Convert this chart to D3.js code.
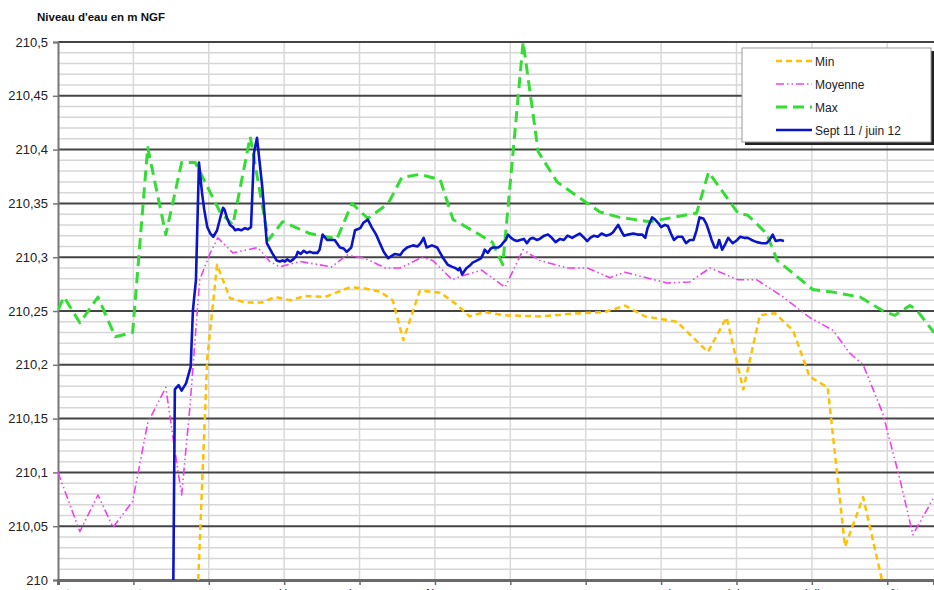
<!DOCTYPE html>
<html>
<head>
<meta charset="utf-8">
<script src="https://cdn.jsdelivr.net/npm/d3@7"></script>
<style>
  html, body { margin: 0; padding: 0; background: #fff; }
  svg { display: block; font-family: Arial, "Liberation Sans", sans-serif; }
</style>
</head>
<body>
<svg id="chart" width="934" height="590"></svg>
<script>
// Month labels of the hydrological year (x = month index, 0 = September)
const monthLabels = ["sept", "oct", "nov", "déc", "janv", "févr", "mars", "avr", "mai", "juin", "juil", "août"];
const yTicks = [210, 210.05, 210.1, 210.15, 210.2, 210.25, 210.3, 210.35, 210.4, 210.45, 210.5];

// Minimum of the record (month index, level m NGF)
const minX = [1.86, 1.98, 2.11, 2.28, 2.48, 2.71, 2.88, 3.08, 3.28, 3.54, 3.87, 4.07, 4.27, 4.44, 4.58, 4.80, 5.07, 5.27, 5.46, 5.66, 5.93, 6.39, 6.92, 7.25, 7.52, 7.79, 8.21, 8.62, 8.87, 9.09, 9.31, 9.51, 9.75, 9.97, 10.21, 10.44, 10.68, 10.93];
const minY = [210.000, 210.206, 210.293, 210.262, 210.258, 210.258, 210.263, 210.260, 210.264, 210.263, 210.272, 210.271, 210.268, 210.260, 210.223, 210.269, 210.267, 210.257, 210.245, 210.249, 210.246, 210.245, 210.248, 210.249, 210.255, 210.245, 210.240, 210.212, 210.244, 210.177, 210.246, 210.248, 210.232, 210.189, 210.179, 210.031, 210.077, 210.000];

// Mean of the record
const meanX = [0, 0.29, 0.53, 0.73, 0.99, 1.19, 1.43, 1.53, 1.64, 1.75, 1.88, 2.02, 2.12, 2.32, 2.65, 2.81, 2.94, 3.21, 3.63, 3.83, 4.07, 4.34, 4.54, 4.83, 4.97, 5.23, 5.33, 5.62, 5.93, 6.17, 6.39, 6.75, 7.02, 7.32, 7.52, 8.08, 8.38, 8.65, 9.02, 9.27, 9.62, 9.97, 10.28, 10.50, 10.68, 10.94, 11.17, 11.34, 11.62];
const meanY = [210.100, 210.045, 210.079, 210.049, 210.073, 210.146, 210.179, 210.130, 210.079, 210.161, 210.279, 210.304, 210.318, 210.304, 210.309, 210.296, 210.291, 210.296, 210.291, 210.302, 210.299, 210.290, 210.290, 210.300, 210.297, 210.279, 210.282, 210.288, 210.272, 210.307, 210.297, 210.290, 210.290, 210.281, 210.286, 210.276, 210.277, 210.290, 210.279, 210.279, 210.263, 210.244, 210.232, 210.211, 210.200, 210.155, 210.093, 210.042, 210.077];

// Maximum of the record
const maxX = [0, 0.08, 0.29, 0.53, 0.76, 0.99, 1.19, 1.43, 1.64, 1.82, 2.15, 2.32, 2.55, 2.79, 2.98, 3.34, 3.70, 3.90, 4.11, 4.38, 4.56, 4.80, 5.07, 5.24, 5.37, 5.76, 5.90, 6.17, 6.37, 6.62, 6.86, 7.19, 7.45, 7.85, 8.47, 8.63, 9.02, 9.15, 9.40, 9.54, 9.75, 10.01, 10.24, 10.64, 10.97, 11.10, 11.30, 11.39, 11.62];
const maxY = [210.251, 210.263, 210.239, 210.263, 210.226, 210.230, 210.402, 210.321, 210.388, 210.388, 210.342, 210.330, 210.412, 210.316, 210.333, 210.322, 210.317, 210.350, 210.336, 210.350, 210.374, 210.377, 210.372, 210.335, 210.330, 210.314, 210.293, 210.500, 210.398, 210.370, 210.358, 210.342, 210.337, 210.333, 210.341, 210.379, 210.341, 210.339, 210.322, 210.297, 210.285, 210.270, 210.268, 210.263, 210.249, 210.246, 210.255, 210.251, 210.230];

// Sept 2011 - June 2012 daily readings
const obsX = [1.53, 1.55, 1.56, 1.60, 1.64, 1.70, 1.72, 1.76, 1.79, 1.83, 1.87, 1.91, 1.94, 1.98, 2.02, 2.06, 2.11, 2.15, 2.19, 2.21, 2.24, 2.28, 2.32, 2.35, 2.39, 2.43, 2.48, 2.52, 2.56, 2.60, 2.64, 2.71, 2.77, 2.84, 2.90, 2.94, 2.98, 3.01, 3.04, 3.08, 3.12, 3.16, 3.18, 3.22, 3.26, 3.30, 3.34, 3.38, 3.44, 3.47, 3.51, 3.57, 3.62, 3.67, 3.74, 3.79, 3.83, 3.89, 3.94, 4.01, 4.05, 4.09, 4.11, 4.16, 4.22, 4.27, 4.32, 4.38, 4.42, 4.47, 4.54, 4.58, 4.63, 4.71, 4.77, 4.81, 4.85, 4.89, 4.96, 5.03, 5.07, 5.11, 5.17, 5.23, 5.27, 5.31, 5.33, 5.36, 5.40, 5.42, 5.46, 5.50, 5.56, 5.61, 5.64, 5.66, 5.70, 5.74, 5.77, 5.81, 5.84, 5.88, 5.90, 5.94, 5.97, 6.01, 6.05, 6.09, 6.13, 6.18, 6.22, 6.26, 6.30, 6.35, 6.39, 6.45, 6.50, 6.55, 6.60, 6.66, 6.71, 6.76, 6.82, 6.87, 6.92, 6.98, 7.02, 7.06, 7.11, 7.16, 7.21, 7.27, 7.32, 7.36, 7.40, 7.43, 7.49, 7.51, 7.56, 7.63, 7.69, 7.75, 7.79, 7.82, 7.88, 7.92, 7.96, 8.00, 8.05, 8.09, 8.13, 8.17, 8.22, 8.28, 8.33, 8.38, 8.43, 8.47, 8.51, 8.56, 8.60, 8.63, 8.67, 8.71, 8.74, 8.77, 8.81, 8.85, 8.89, 8.95, 9.01, 9.05, 9.10, 9.15, 9.20, 9.27, 9.34, 9.40, 9.44, 9.48, 9.52, 9.58, 9.63];
const obsY = [210.000, 210.177, 210.178, 210.181, 210.176, 210.183, 210.188, 210.198, 210.251, 210.279, 210.388, 210.360, 210.344, 210.328, 210.322, 210.319, 210.325, 210.336, 210.346, 210.344, 210.337, 210.330, 210.328, 210.325, 210.326, 210.325, 210.327, 210.326, 210.328, 210.397, 210.411, 210.365, 210.313, 210.304, 210.297, 210.296, 210.297, 210.296, 210.298, 210.296, 210.298, 210.301, 210.305, 210.303, 210.306, 210.304, 210.305, 210.304, 210.304, 210.307, 210.321, 210.316, 210.316, 210.316, 210.309, 210.308, 210.305, 210.309, 210.325, 210.327, 210.332, 210.334, 210.335, 210.328, 210.321, 210.313, 210.305, 210.299, 210.301, 210.303, 210.302, 210.306, 210.309, 210.311, 210.310, 210.313, 210.318, 210.309, 210.311, 210.309, 210.304, 210.299, 210.293, 210.291, 210.290, 210.288, 210.290, 210.284, 210.288, 210.290, 210.292, 210.295, 210.297, 210.299, 210.303, 210.307, 210.304, 210.308, 210.309, 210.309, 210.309, 210.311, 210.313, 210.316, 210.321, 210.318, 210.316, 210.315, 210.316, 210.317, 210.313, 210.317, 210.318, 210.316, 210.317, 210.320, 210.321, 210.318, 210.314, 210.317, 210.316, 210.320, 210.318, 210.320, 210.322, 210.318, 210.315, 210.318, 210.320, 210.319, 210.322, 210.320, 210.321, 210.323, 210.327, 210.330, 210.322, 210.320, 210.321, 210.322, 210.321, 210.321, 210.318, 210.327, 210.337, 210.335, 210.332, 210.328, 210.330, 210.329, 210.322, 210.316, 210.319, 210.319, 210.313, 210.316, 210.316, 210.325, 210.337, 210.336, 210.331, 210.325, 210.316, 210.309, 210.309, 210.316, 210.307, 210.312, 210.318, 210.313, 210.316, 210.319, 210.318, 210.318, 210.316, 210.314, 210.313, 210.313, 210.316, 210.321, 210.315, 210.316, 210.315];

const svg = d3.select("#chart");
const plotLeft = 58, plotRight = 934, plotTop = 42, plotBottom = 580;

const x = d3.scaleLinear().domain([0, 11.62]).range([plotLeft, plotRight]);
const y = d3.scaleLinear().domain([210, 210.5]).range([plotBottom, plotTop]);

svg.append("defs").append("clipPath").attr("id", "plot")
  .append("rect").attr("x", plotLeft).attr("y", plotTop - 2)
  .attr("width", plotRight - plotLeft).attr("height", plotBottom - plotTop + 2);

// Minor horizontal grid every 0.01 m
const minor = d3.range(1, 50).filter(i => i % 5 !== 0).map(i => 210 + i * 0.01);
svg.append("g").selectAll("line").data(minor).join("line")
  .attr("x1", plotLeft).attr("x2", plotRight)
  .attr("y1", d => y(d)).attr("y2", d => y(d))
  .attr("stroke", "#d6d6d6").attr("stroke-width", 1.5);

// Vertical month grid
svg.append("g").selectAll("line").data(d3.range(1, 12)).join("line")
  .attr("x1", d => x(d)).attr("x2", d => x(d))
  .attr("y1", plotTop).attr("y2", plotBottom)
  .attr("stroke", "#d9d9d9").attr("stroke-width", 1.5);

// Major horizontal grid every 0.05 m
svg.append("g").selectAll("line").data(yTicks.slice(1)).join("line")
  .attr("x1", plotLeft).attr("x2", plotRight)
  .attr("y1", d => y(d)).attr("y2", d => y(d))
  .attr("stroke", "#444").attr("stroke-width", 2);

// Y axis
const yAxis = svg.append("g").attr("transform", `translate(${plotLeft},0)`)
  .call(d3.axisLeft(y).tickValues(yTicks).tickSize(5).tickPadding(5)
    .tickFormat(d => d3.format(".2~f")(d).replace(".", ",")));
yAxis.select(".domain").attr("stroke", "#777").attr("stroke-width", 2);
yAxis.selectAll(".tick line").attr("stroke", "#777").attr("stroke-width", 1.5);
yAxis.selectAll(".tick text").attr("font-size", 13).attr("fill", "#222")
  .attr("font-family", "Arial, 'Liberation Sans', sans-serif");

// X axis (month labels sit at the lower edge of the frame)
const xAxis = svg.append("g").attr("transform", `translate(0,${plotBottom})`)
  .call(d3.axisBottom(x).tickValues(d3.range(0, 12)).tickSize(5).tickPadding(4)
    .tickFormat(d => monthLabels[d]));
xAxis.select(".domain").attr("stroke", "#6a6a6a").attr("stroke-width", 3);
xAxis.selectAll(".tick line").attr("stroke", "#6a6a6a").attr("stroke-width", 1.5);
xAxis.selectAll(".tick text").attr("font-size", 12).attr("fill", "#333")
  .attr("font-family", "Arial, 'Liberation Sans', sans-serif").attr("dy", "0.72em");

// Axis title
svg.append("text").attr("x", 37).attr("y", 21)
  .attr("font-size", 11.5).attr("font-weight", "bold").attr("fill", "#111")
  .text("Niveau d'eau en m NGF");

const series = [
  { name: "Min", xs: minX, ys: minY, color: "#ffc000", width: 2.5, dash: "6,4" },
  { name: "Moyenne", xs: meanX, ys: meanY, color: "#f040f0", width: 1.6, dash: "8,3,1.5,3,1.5,3" },
  { name: "Max", xs: maxX, ys: maxY, color: "#33dd33", width: 3, dash: "11,6" },
  { name: "Sept 11 / juin 12", xs: obsX, ys: obsY, color: "#0a14c8", width: 2.6, dash: null }
];

const line = d3.line().x(d => x(d[0])).y(d => y(d[1]));
const plot = svg.append("g").attr("clip-path", "url(#plot)");
series.forEach(s => {
  plot.append("path")
    .datum(s.xs.map((v, i) => [v, s.ys[i]]))
    .attr("d", line)
    .attr("fill", "none")
    .attr("stroke", s.color)
    .attr("stroke-width", s.width)
    .attr("stroke-linejoin", "round")
    .attr("stroke-dasharray", s.dash);
});

// Legend
const lg = svg.append("g");
lg.append("rect").attr("x", 745).attr("y", 51).attr("width", 189).attr("height", 94).attr("fill", "#222");
lg.append("rect").attr("x", 742).attr("y", 48).attr("width", 189).attr("height", 94)
  .attr("fill", "#fff").attr("stroke", "#999").attr("stroke-width", 1);
series.forEach((s, i) => {
  const ly = 61 + i * 23;
  lg.append("line").attr("x1", 776).attr("x2", 812).attr("y1", ly).attr("y2", ly)
    .attr("stroke", s.color).attr("stroke-width", s.width).attr("stroke-dasharray", s.dash);
  lg.append("text").attr("x", 815).attr("y", ly + 4.5).attr("font-size", 12).attr("fill", "#222")
    .text(s.name);
});
</script>
</body>
</html>
